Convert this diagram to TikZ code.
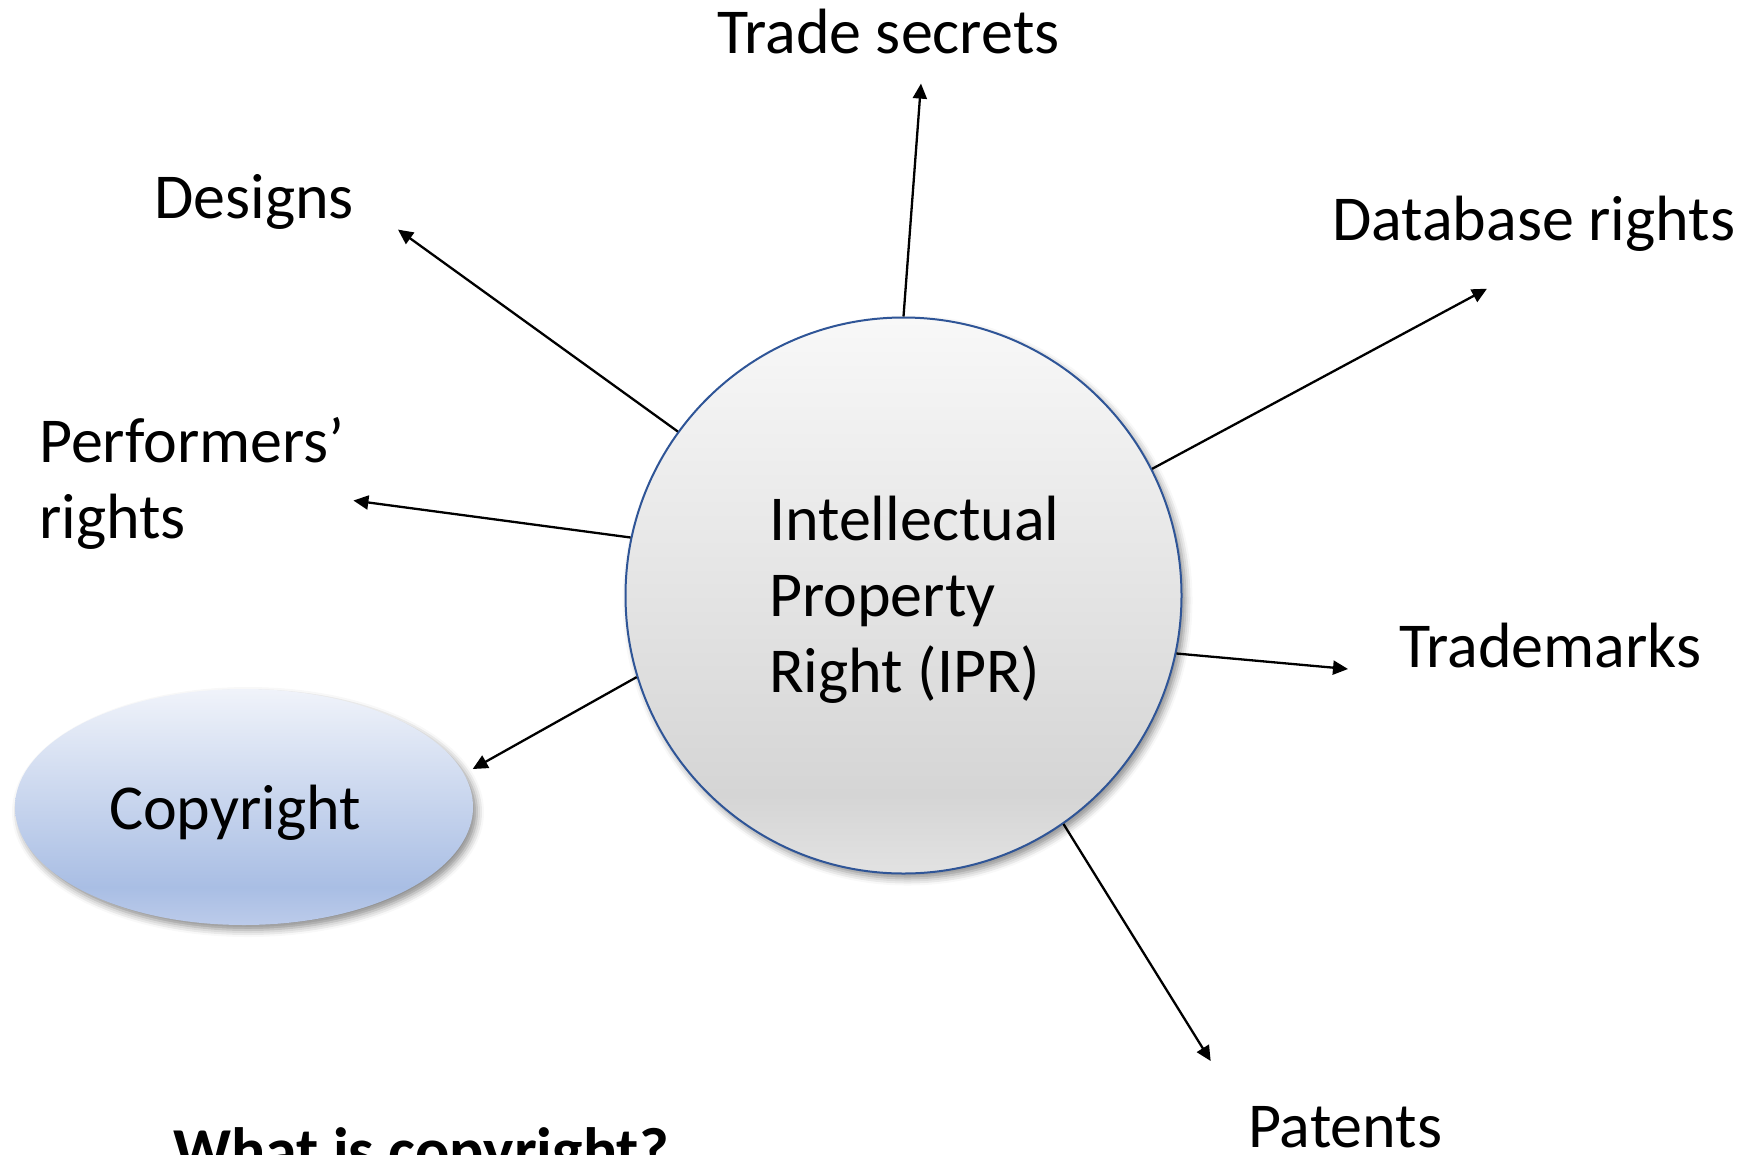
\documentclass[tikz,border=0pt]{standalone}
\usepackage{fontspec}
\setmainfont{Carlito}
\usetikzlibrary{arrows.meta,shapes.geometric,shadows.blur}

\definecolor{ringblue}{HTML}{2F5597}
\definecolor{ipr top}{HTML}{F8F8F8}
\definecolor{ipr mid}{HTML}{D5D5D5}
\definecolor{ipr low}{HTML}{E2E2E2}
\definecolor{cr top}{HTML}{F0F3FA}
\definecolor{cr mid}{HTML}{A9BEE4}
\definecolor{cr low}{HTML}{BCCBEA}

% vertical shadings: the shaded path spans 25bp (bottom) to 75bp (top)
\pgfdeclareverticalshading{iprshade}{100bp}{color(0bp)=(ipr low); color(25bp)=(ipr low); color(32bp)=(ipr mid); color(75bp)=(ipr top); color(100bp)=(ipr top)}
\pgfdeclareverticalshading{crshade}{100bp}{color(0bp)=(cr low); color(25bp)=(cr low); color(33bp)=(cr mid); color(75bp)=(cr top); color(100bp)=(cr top)}

\tikzset{
  lbl/.style={font=\fontsize{64}{75.8}\selectfont, inner sep=0pt, align=left},
  conn/.style={line width=2.3pt, -{Triangle[length=15pt,width=14pt]}},
  soft shadow/.style={blur shadow={shadow xshift=4pt, shadow yshift=-5pt, shadow blur radius=7pt, shadow opacity=45}},
}

\begin{document}
\begin{tikzpicture}[x=1pt, y=-1pt]
  \useasboundingbox (0,0) rectangle (1748,1154);

  % central circle and its caption
  \node[circle, minimum size=556pt, inner sep=0pt, shading=iprshade,
        draw=ringblue, line width=2pt, soft shadow]
    (ipr) at (903.5,595.5) {};
  \node[lbl, anchor=base west] (iprtext) at (769,692.3)
    {Intellectual\\Property\\Right (IPR)};

  % highlighted ellipse
  \node[ellipse, minimum width=458pt, minimum height=236pt, inner sep=0pt,
        shading=crshade, soft shadow, lbl, text depth=0pt]
    (copy) at (244,807) {Copyright\hspace{18pt}};

  % surrounding labels
  \node[lbl, anchor=base west] (trade) at (717,53.5) {Trade secrets};
  \node[lbl, anchor=base west] (designs) at (154,218.5) {Designs};
  \node[lbl, anchor=base west] (db) at (1332,240) {Database rights};
  \node[lbl, anchor=base west] (perf) at (39,538.5) {Performers’\\rights};
  \node[lbl, anchor=base west] (tm) at (1399,667) {Trademarks};
  \node[lbl, anchor=base west] (pat) at (1248,1147) {Patents};
  \node[lbl, anchor=base west, font=\fontsize{64}{75.8}\selectfont\bfseries]
    (q) at (173,1172) {What is copyright?};

  % arrow end points
  \coordinate (eTrade) at (921,83.6);
  \coordinate (eDes) at (398,229.6);
  \coordinate (eDb) at (1487,288.7);
  \coordinate (ePerf) at (353.4,500.5);
  \coordinate (eCopy) at (472.7,769);
  \coordinate (eTm) at (1348,669);
  \coordinate (ePat) at (1210.7,1061);

  % connectors
  \draw[conn] (ipr.90) -- (eTrade);
  \draw[conn] (ipr.144.8) -- (eDes);
  \draw[conn] (ipr.27) -- (eDb);
  \draw[conn] (ipr.168.2) -- (ePerf);
  \draw[conn] (ipr.197.6) -- (eCopy);
  \draw[conn] (ipr.-12.1) -- (eTm);
  \draw[conn] (ipr.-55.3) -- (ePat);
\end{tikzpicture}
\end{document}
